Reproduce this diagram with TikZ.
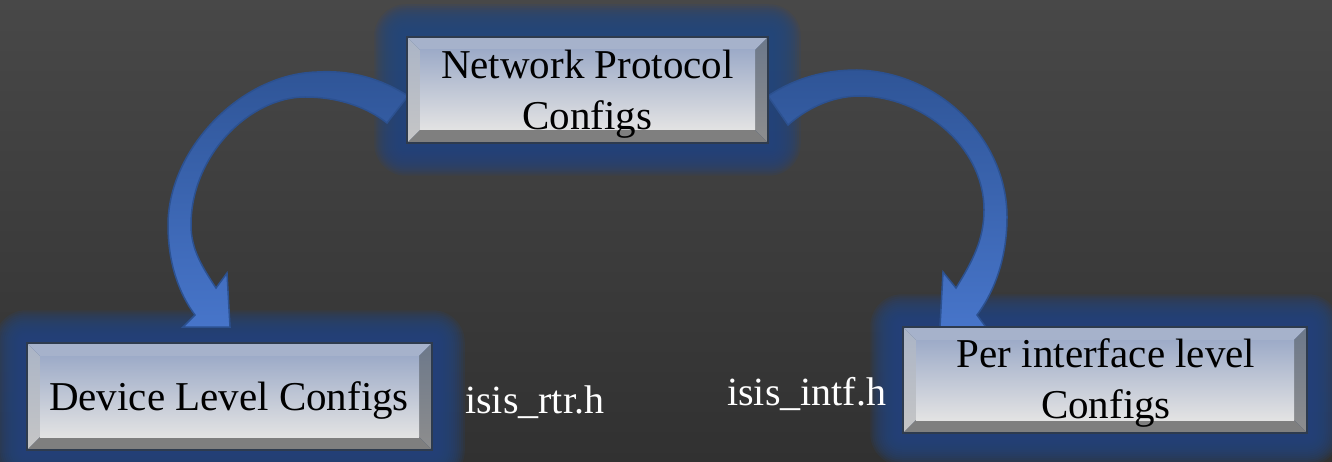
\documentclass[tikz,border=0pt]{standalone}
\usepackage{fontspec}
\setmainfont{Liberation Serif}
\usetikzlibrary{calc}

\definecolor{bgtop}{HTML}{484848}
\definecolor{bgbot}{HTML}{313131}
\definecolor{glowc}{HTML}{23457F}
\definecolor{arrowA}{HTML}{2F5597}
\definecolor{arrowB}{HTML}{4775CA}
\definecolor{arrowline}{HTML}{2C5190}
\definecolor{facetop}{HTML}{9DABC8}
\definecolor{facebot}{HTML}{E3E3E3}
\definecolor{bevtop}{HTML}{A6B2CB}
\definecolor{bevleftT}{HTML}{AAB4C6}
\definecolor{bevleftB}{HTML}{C6C6C6}
\definecolor{bevrightT}{HTML}{6C788A}
\definecolor{bevrightB}{HTML}{8E8E8E}
\definecolor{bevbot}{HTML}{7F7F7F}
\definecolor{rim}{HTML}{2E3B4E}

\pgfdeclarelayer{bg}
\pgfdeclarelayer{glow}
\pgfdeclarelayer{arrows}
\pgfsetlayers{bg,glow,arrows,main}

% soft blue halo around a named box
\newcommand\boxglow[1]{%
  \foreach \g in {32,30,...,4}{%
    \fill[glowc,opacity=0.16,rounded corners=\g pt]
      ([shift={(-\g pt,\g pt)}]#1.north west) rectangle
      ([shift={(\g pt,-\g pt)}]#1.south east);
  }}

\tikzset{
  bevelbox/.style 2 args={rectangle, inner sep=0pt, minimum width=#1,
    minimum height=#2, draw=rim, line width=1.5pt,
    path picture={
      \coordinate (p1) at (path picture bounding box.north west);
      \coordinate (p2) at (path picture bounding box.north east);
      \coordinate (p3) at (path picture bounding box.south east);
      \coordinate (p4) at (path picture bounding box.south west);
      \coordinate (q1) at ([shift={(13pt,-13pt)}]p1);
      \coordinate (q2) at ([shift={(-13pt,-13pt)}]p2);
      \coordinate (q3) at ([shift={(-13pt,13pt)}]p3);
      \coordinate (q4) at ([shift={(13pt,13pt)}]p4);
      \fill[bevtop] (p1)--(p2)--(q2)--(q1)--cycle;
      \shade[top color=bevleftT,bottom color=bevleftB] (p1)--(q1)--(q4)--(p4)--cycle;
      \shade[top color=bevrightT,bottom color=bevrightB] (p2)--(p3)--(q3)--(q2)--cycle;
      \fill[bevbot] (p4)--(q4)--(q3)--(p3)--cycle;
      \shade[top color=facetop,bottom color=facebot] (q1) rectangle (q3);
    }},
  boxtext/.style={font=\fontsize{41}{51}\selectfont, text=black, align=center,
    inner sep=0pt, anchor=base},
  filetext/.style={font=\fontsize{40}{48}\selectfont, text=white, inner sep=0pt,
    anchor=base west},
  bentarrow/.style={top color=arrowA, bottom color=arrowB, draw=arrowline,
    line width=1.5pt, line join=miter}
}

\begin{document}
\begin{tikzpicture}[x=1pt,y=-1pt]
  % backdrop
  \begin{pgfonlayer}{bg}
    \shade[top color=bgtop,bottom color=bgbot] (0,0) rectangle (1332,462);
  \end{pgfonlayer}
  \useasboundingbox (0,0) rectangle (1332,462);

  % boxes
  \node[bevelbox={361pt}{106pt}] (np) at (587.5,90) {};
  \node[bevelbox={405pt}{107pt}] (dev) at (229.5,396.5) {};
  \node[bevelbox={404pt}{106pt}] (intf) at (1105,380) {};

  \begin{pgfonlayer}{glow}
    \boxglow{np}
    \boxglow{dev}
    \boxglow{intf}
  \end{pgfonlayer}

  % curved block arrows
  \begin{pgfonlayer}{arrows}
    \draw[bentarrow] (408,96) .. controls (380,78) and (350,70) .. (317,72)
      .. controls (240,74) and (168,150) .. (168,225)
      .. controls (168,265) and (180,295) .. (195,315)
      -- (183,327) -- (230,327) -- (227,273) -- (216,288)
      .. controls (203,268) and (191,250) .. (191,225)
      .. controls (191,155) and (250,97) .. (305,97)
      .. controls (340,97) and (368,108) .. (387,123) -- cycle;
    \draw[bentarrow] (768,96) .. controls (795,78) and (825,70) .. (857,70)
      .. controls (940,72) and (1007,140) .. (1007,217)
      .. controls (1007,262) and (992,295) .. (977,315)
      -- (988,330) -- (940,327) -- (943,272) -- (956,288)
      .. controls (972,262) and (984,240) .. (984,210)
      .. controls (984,145) and (920,96) .. (860,96)
      .. controls (830,96) and (805,110) .. (788,125) -- cycle;
  \end{pgfonlayer}

  % box captions
  \node[boxtext] (nptext) at (587.5,130) {Network Protocol\\Configs};
  \node[boxtext] (devtext) at (229,410) {Device Level Configs};
  \node[boxtext] (intftext) at (1106,418) {Per interface level\\Configs};

  % header file names
  \node[filetext] (rtr) at (465,413) {isis\_rtr.h};
  \node[filetext] (intfh) at (727,405) {isis\_intf.h};
\end{tikzpicture}
\end{document}
